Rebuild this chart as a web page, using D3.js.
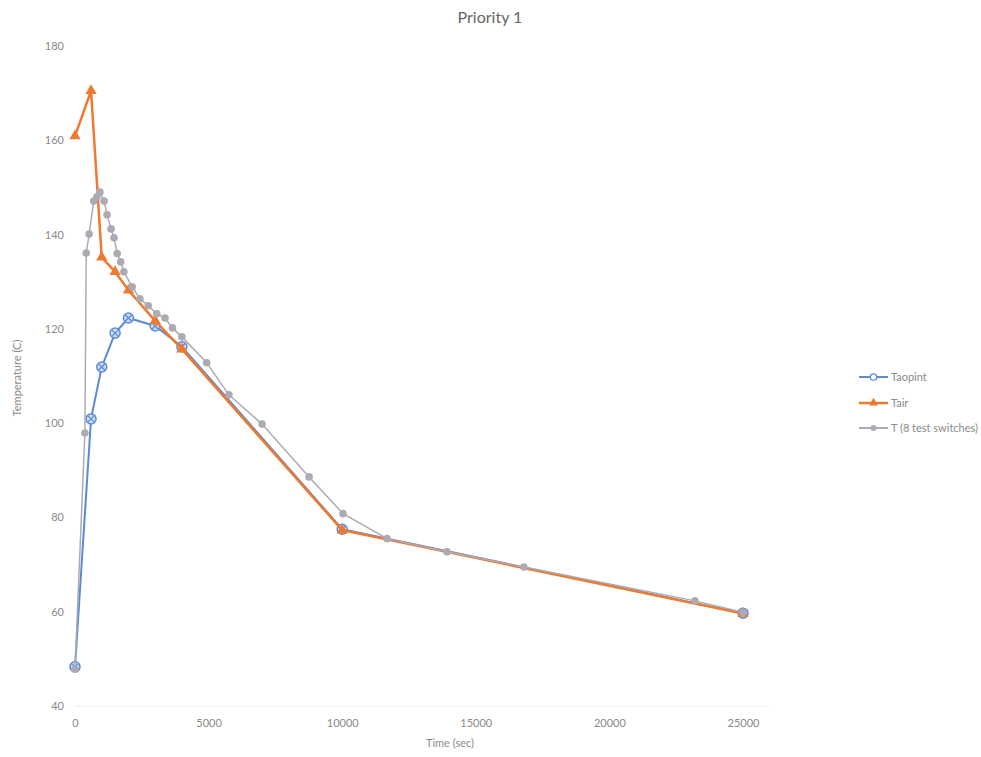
<!DOCTYPE html>
<html>
<head>
<meta charset="utf-8">
<script src="https://cdn.jsdelivr.net/npm/d3@7"></script>
<style>
  body { margin: 0; background: #fff; }
  text { font-family: Lato, "Open Sans", sans-serif; }
</style>
</head>
<body>
<div id="chart"></div>
<script>
// data
var aopintTime = [0, 600, 1000, 1500, 2000, 3000, 4000, 10000, 25000];
var aopintTemp = [48.3, 100.9, 111.9, 119.1, 122.3, 120.6, 116.2, 77.5, 59.7];

var airTime = [0, 600, 1000, 1500, 2000, 3000, 4000, 10000, 25000];
var airTemp = [160.9, 170.5, 135.2, 132.1, 128.2, 121.7, 115.7, 77.3, 59.6];

var switchTime = [0, 370, 420, 530, 700, 820, 930, 1090, 1200, 1350, 1460, 1580, 1710, 1830,
  2140, 2430, 2740, 3060, 3370, 3650, 4000, 4930, 5760, 7000, 8760, 10030, 11680, 13920,
  16800, 23200, 25000];
var switchTemp = [47.8, 97.9, 136.1, 140.1, 147.1, 148, 149, 147.1, 144.2, 141.2, 139.3, 136,
  134.2, 132.1, 128.9, 126.4, 124.9, 123.2, 122.3, 120.2, 118.3, 112.8, 106, 99.8, 88.6, 80.8,
  75.5, 72.7, 69.5, 62.3, 59.9];

var xTicks = [0, 5000, 10000, 15000, 20000, 25000];
var yTicks = [40, 60, 80, 100, 120, 140, 160, 180];
var seriesNames = ["Taopint", "Tair", "T (8 test switches)"];

var blue = "#5b8bd8";
var orange = "#ee7a2f";
var grey = "#aeaab4";
var textColor = "#8a8a8a";

var width = 981, height = 757;

var x = d3.scaleLinear().domain([0, 25000]).range([75, 743]);
var y = d3.scaleLinear().domain([40, 180]).range([706, 46]);

var svg = d3.select("#chart").append("svg")
  .attr("width", width)
  .attr("height", height);

// faint baseline
svg.append("line")
  .attr("x1", 75).attr("x2", 770)
  .attr("y1", y(40)).attr("y2", y(40))
  .style("stroke", "#f0f0f0");

//axes, drawn with d3 axis then stripped of lines
var xAxis = d3.axisBottom(x).tickValues(xTicks).tickSize(0).tickPadding(0).tickFormat(d3.format("d"));
var yAxis = d3.axisLeft(y).tickValues(yTicks).tickSize(0).tickPadding(0);

var gx = svg.append("g")
  .attr("transform", "translate(0," + 719 + ")")
  .call(xAxis);
var gy = svg.append("g")
  .attr("transform", "translate(64,0)")
  .call(yAxis);
[gx, gy].forEach(function (g) {
  g.select(".domain").remove();
  g.selectAll("text")
    .style("fill", textColor)
    .style("font-size", "11px")
    .style("font-family", "Lato, 'Open Sans', sans-serif");
});

function zip(xs, ys) {
  return xs.map(function (v, i) { return [v, ys[i]]; });
}

var line = d3.line()
  .x(function (d) { return x(d[0]); })
  .y(function (d) { return y(d[1]); });

var aopint = zip(aopintTime, aopintTemp);
var air = zip(airTime, airTemp);
var sw = zip(switchTime, switchTemp);

//Taopint
svg.append("path").datum(aopint)
  .attr("d", line)
  .style("fill", "none").style("stroke", blue).style("stroke-width", 2);
var am = svg.selectAll(".am").data(aopint).enter().append("g")
  .attr("class", "am")
  .attr("transform", function (d) { return "translate(" + x(d[0]) + "," + y(d[1]) + ")"; });
am.append("circle").attr("r", 5)
  .style("fill", "#cfdcf3").style("stroke", blue).style("stroke-width", 1.5);
am.append("path").attr("d", "M-3,-3L3,3M-3,3L3,-3")
  .style("stroke", blue).style("stroke-width", 1.3);

//Tair
var tri = d3.symbol().type(d3.symbolTriangle).size(55);
svg.append("path").datum(air)
  .attr("d", line)
  .style("fill", "none").style("stroke", orange).style("stroke-width", 2.5);
svg.selectAll(".tm").data(air).enter().append("path")
  .attr("class", "tm")
  .attr("d", tri)
  .attr("transform", function (d) { return "translate(" + x(d[0]) + "," + y(d[1]) + ")"; })
  .style("fill", orange);

//T (8 test switches)
svg.append("path").datum(sw)
  .attr("d", line)
  .style("fill", "none").style("stroke", grey).style("stroke-width", 1.5);
svg.selectAll(".sm").data(sw).enter().append("circle")
  .attr("class", "sm")
  .attr("cx", function (d) { return x(d[0]); })
  .attr("cy", function (d) { return y(d[1]); })
  .attr("r", 3.8)
  .style("fill", grey);

//titles
svg.append("text")
  .attr("x", 490).attr("y", 23)
  .attr("text-anchor", "middle")
  .style("font-size", "16px").style("fill", "#666")
  .text("Priority 1");

svg.append("text")
  .attr("text-anchor", "middle")
  .attr("transform", "translate(21,378) rotate(-90)")
  .style("font-size", "11px").style("fill", textColor)
  .text("Temperature (C)");

svg.append("text")
  .attr("x", 450).attr("y", 747)
  .attr("text-anchor", "middle")
  .style("font-size", "11px").style("fill", textColor)
  .text("Time (sec)");

//legend
var legendY = [377, 403, 428];
var colors = [blue, orange, grey];
var lg = svg.selectAll(".lg").data(seriesNames).enter().append("g")
  .attr("class", "lg")
  .attr("transform", function (d, i) { return "translate(859," + legendY[i] + ")"; });
lg.append("line")
  .attr("x1", 0).attr("x2", 29)
  .style("stroke", function (d, i) { return colors[i]; })
  .style("stroke-width", function (d, i) { return i === 1 ? 2.5 : 2; });
lg.each(function (d, i) {
  var g = d3.select(this);
  if (i === 0) {
    g.append("circle").attr("cx", 14.5).attr("r", 3.2)
      .style("fill", "#fff").style("stroke", blue).style("stroke-width", 1.3);
  } else if (i === 1) {
    g.append("path").attr("d", d3.symbol().type(d3.symbolTriangle).size(35))
      .attr("transform", "translate(14.5,0)").style("fill", orange);
  } else {
    g.append("circle").attr("cx", 14.5).attr("r", 3).style("fill", grey);
  }
});
lg.append("text")
  .attr("x", 32).attr("y", 4)
  .style("font-size", "11px").style("fill", textColor)
  .text(function (d) { return d; });
</script>
</body>
</html>
